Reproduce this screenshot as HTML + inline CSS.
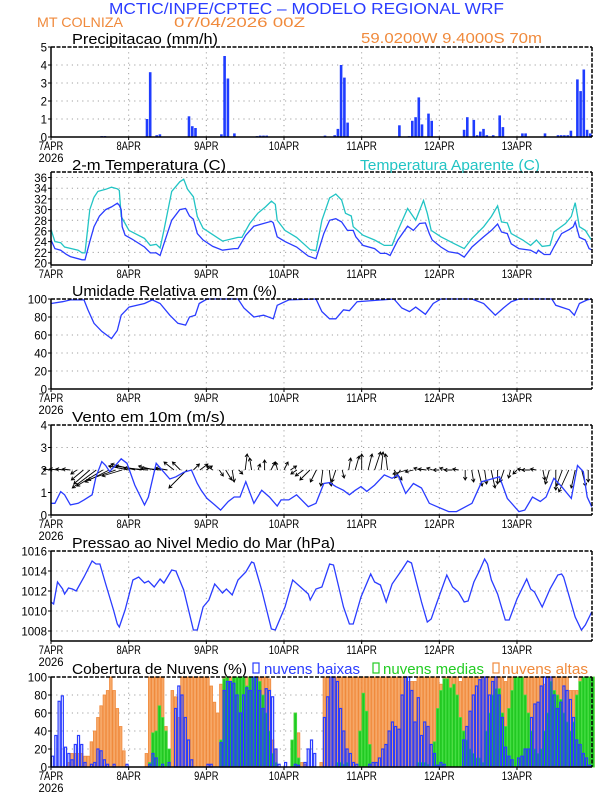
<!DOCTYPE html>
<html><head><meta charset="utf-8"><style>
html,body{margin:0;padding:0;background:#fff;}
svg{display:block;font-family:"Liberation Sans",sans-serif;}
</style></head><body>
<svg id="chart" width="612" height="792" viewBox="0 0 612 792" xmlns="http://www.w3.org/2000/svg">
<rect x="0" y="0" width="612" height="792" fill="#fff"/>
<text x="109" y="14" font-size="16" fill="#2a3cff" textLength="395" lengthAdjust="spacingAndGlyphs">MCTIC/INPE/CPTEC – MODELO REGIONAL WRF</text>
<text x="37" y="27" font-size="14" fill="#f08a3c" textLength="86" lengthAdjust="spacingAndGlyphs">MT COLNIZA</text>
<text x="174" y="27" font-size="14" fill="#f08a3c" textLength="131" lengthAdjust="spacingAndGlyphs">07/04/2026 00Z</text>
<text x="72" y="44" font-size="14.5" fill="#000" textLength="146" lengthAdjust="spacingAndGlyphs">Precipitacao (mm/h)</text>
<text x="361" y="43" font-size="14.5" fill="#f08a3c" textLength="181" lengthAdjust="spacingAndGlyphs">59.0200W 9.4000S 70m</text>
<text x="72" y="170" font-size="14.5" fill="#000" textLength="154" lengthAdjust="spacingAndGlyphs">2-m Temperatura (C)</text>
<text x="360" y="170" font-size="14.5" fill="#22c4c4" textLength="180" lengthAdjust="spacingAndGlyphs">Temperatura Aparente (C)</text>
<text x="72" y="296" font-size="14.5" fill="#000" textLength="205" lengthAdjust="spacingAndGlyphs">Umidade Relativa em 2m (%)</text>
<text x="72" y="422" font-size="14.5" fill="#000" textLength="153" lengthAdjust="spacingAndGlyphs">Vento em 10m (m/s)</text>
<text x="72" y="548" font-size="14.5" fill="#000" textLength="263" lengthAdjust="spacingAndGlyphs">Pressao ao Nivel Medio do Mar (hPa)</text>
<text x="72" y="674" font-size="14.5" fill="#000" textLength="175" lengthAdjust="spacingAndGlyphs">Cobertura de Nuvens (%)</text>
<rect x="253" y="663" width="6" height="10" fill="none" stroke="#2a3cff" stroke-width="1.2"/>
<text x="264" y="674" font-size="14.5" fill="#2a3cff" textLength="96" lengthAdjust="spacingAndGlyphs">nuvens baixas</text>
<rect x="373" y="663" width="6" height="10" fill="none" stroke="#22cc22" stroke-width="1.2"/>
<text x="383" y="674" font-size="14.5" fill="#22cc22" textLength="101" lengthAdjust="spacingAndGlyphs">nuvens medias</text>
<rect x="493" y="663" width="6" height="10" fill="none" stroke="#f08a3c" stroke-width="1.2"/>
<text x="502" y="674" font-size="14.5" fill="#f08a3c" textLength="86" lengthAdjust="spacingAndGlyphs">nuvens altas</text>
</svg>
<script>
// ---------- data ----------
const dayLabels = ["7APR","8APR","9APR","10APR","11APR","12APR","13APR"];
const precipHours = [16,17,30,31,33,34,43,44,45,53,54,55,57,64,65,66,67,85,88,89,90,91,92,108,111,112,113,114,115,117,118,128,129,131,132,133,134,135,137,139,140,146,147,153,157,158,159,160,161,163,164,165,166,167];
const precipVals = [0.05,0.05,1.0,3.6,0.1,0.15,1.15,0.6,0.5,0.15,4.5,3.25,0.2,0.05,0.08,0.08,0.08,0.08,0.1,0.45,4.0,3.3,0.8,0.65,0.05,0.9,1.1,2.2,0.7,1.3,0.9,0.4,1.1,0.95,0.1,0.3,0.45,0.1,0.1,1.2,0.55,0.2,0.2,0.2,0.1,0.1,0.1,0.1,0.35,3.2,2.55,3.75,0.4,0.2];
const precipTicks = [0,1,2,3,4,5];

const tempHours = [0,1.2,3,4.8,6,9.6,10.5,12,13.3,15,16.9,18.7,20.5,21.1,21.7,22,22.9,25,28.9,30.7,32.5,33.7,34.9,37.3,39.8,41.6,42.8,44,45.2,47,50,53,56.6,57.8,60.2,62.7,65.1,68.1,68.7,69.9,72.3,75.9,79.5,81.9,84.3,86.1,88,89.8,91.6,93.4,94.2,96.4,100,101.8,103.6,104.8,107.2,110.2,112,113.9,115.7,116.9,117.8,120.5,122.9,125.9,127.7,130.1,133.7,136.1,138,139.2,141,142.2,144.6,148.2,150,150.6,152.4,154.2,155.4,157.8,160.2,161.4,162,163.3,165.1,166.3,167];
const tempVals = [24.3,22.7,22.4,21.6,21.2,20.6,20.6,24,26.8,28.8,30,30.5,31.2,30.8,30,26.8,25.2,24.5,23,21.9,21.9,21.4,23.6,28,30,30.2,28.8,28.2,25.5,24.3,23.1,22.4,22.7,22.7,25.2,26.9,27.3,27.8,27.5,24.9,24,23,21.3,20.8,25.5,28,28.3,27.7,26.1,26.1,24.9,23.3,22.7,21.8,21.8,21.4,24.3,26.9,26.1,27.4,27.5,25.5,24.3,23,22.1,21.8,21.1,23,24.9,26.1,27.3,25.8,25.5,23.6,22.7,22.4,21.8,22.4,21.6,21.6,23,25.5,26.3,26.8,27.7,24.8,24.3,22.7,22.5];
const appHours = [0,1.2,3,4.2,8.4,9.6,10.5,12,13.3,14.5,16.9,18.7,20.5,21.1,21.7,24.1,28.9,30.7,32.5,33.7,34.9,37.3,39.8,41,42.2,44,45.2,47,53,57.8,59,61.4,63.9,66.3,68.1,69.3,69.9,72.3,75.9,80.1,81.9,83.7,86.1,88,89.8,91,92.8,93.4,96.4,100,103,105.4,107.2,110.2,112.7,115.1,116.3,117.5,120.5,124.7,127.7,130.1,133.7,136.1,138,139.2,141,142.2,145.8,148.2,150,151.8,154.2,155.4,159,160.8,162,163.3,165.1,166.9];
const appVals = [26.3,24,23.8,23,22.4,21.9,21.9,30,32.3,33.4,33.8,34.2,33.9,33.6,28.7,26.1,24.6,23.3,23.5,22.8,26.1,33.4,35.2,35.7,33.8,32.4,28.7,26.5,24.1,24.8,24.8,27.4,29.3,30.5,31.6,31,28,26.1,24.8,22.5,22.3,28,32.2,32.9,31.8,29.3,28.8,26.8,25.2,24.3,23.3,23.3,26.1,30.2,28,31.7,29.3,26.1,24.9,23.6,22.7,24.6,26.8,28.7,30.7,27.7,27.5,25.5,24.3,23.3,24.3,23.1,23.3,25.8,27.4,28.7,31.3,26.8,26.1,24.4];
const tempTicks = [20,22,24,26,28,30,32,34,36];

const rhHours = [0,3.6,6,10.2,11.4,13.3,15.7,18.7,20.5,21.7,24.1,28.9,31.3,33.7,36.7,39.2,41.6,42.8,44.6,45.8,48.2,57.8,59.6,62.7,65.7,68.7,69.9,73.5,81.9,83.7,86.1,88,90.4,92.2,94.6,106,108.4,110.8,112.7,115.7,118.1,120.5,130.1,133.7,137.3,139.8,142.2,144.6,154.8,156,160.2,161.7,163.3,165.7,167];
const rhVals = [95,97,99,99,88,73,64,56,65,82,91,95,99,95,82,73,71,80,82,95,100,100,90,80,82,78,93,99,100,86,78,78,88,87,97,100,90,86,91,83,95,100,100,95,82,90,97,100,100,93,88,82,95,99,100];
const rhTicks = [0,20,40,60,80,100];

const windHours = [0,1.2,3,4.2,6,8.4,10.2,12.7,13.9,15.7,16.9,18.1,19.9,21.7,23.5,25.9,28.9,30.1,32.5,33.7,36.7,38.6,41,43.4,45.2,46.4,48.2,50.6,52.4,54.8,56.6,58.4,60.2,62.7,65.1,67.5,69.9,71.1,73.5,75.9,79.5,81.9,84.3,86.1,88,90.4,92.2,94,95.8,97.6,100,103,105.4,107.2,109.6,112,114.5,116.9,119.3,122.9,125.3,130.1,133.1,134.9,138.6,141,144.6,146.4,148.8,151.2,153,155.4,157.8,160.8,162.7,164.5,165.7,167.1];
const windSpeed = [0.52,0.52,1.04,0.9,0.45,0.52,0.67,0.9,1.7,2.37,2.2,1.93,2.2,2.5,2.3,1.33,0.45,0.8,2.3,2.1,1.6,1.7,1.9,2.0,1.4,1.1,0.74,0.45,0.22,0.6,0.8,0.8,1.48,0.52,1.1,0.8,0.4,0.67,0.67,0.9,0.37,0.52,1.4,1.44,1.26,1.1,0.9,1.1,1.26,1.05,1.33,1.78,1.63,1.78,0.96,1.4,1.2,0.52,0.37,0.15,0.15,0.52,1.48,1.55,1.7,0.74,0.15,0.22,0.8,0.6,0.8,1.63,1.26,0.74,2.2,1.93,0.8,0.37];
const windU = [-0.4,-0.4,-0.4,-0.4,-0.3,-0.6,-0.8,-1.2,-1.3,-1.2,-1.4,-1.0,-1.0,-1.2,-1.3,-1.2,-0.8,-1.0,-0.6,-0.5,-0.4,-0.9,0.3,0.4,0.3,-0.3,0.2,0.3,0.1,0.2,0.1,-0.1,0.1,0.0,0.2,-0.1,0.2,0.3,-0.3,-0.4,-0.5,-0.3,-0.1,0.1,-0.2,0.1,0.1,0.2,0.0,0.2,0.3,0.1,-0.1,0.4,-0.3,-0.7,-0.4,-0.3,-0.4,-0.3,-0.3,-0.3,-0.4,-0.3,0.0,0.1,0.2,0.1,0.2,0.0,-0.2,-0.1,-0.2,-0.3,-0.4,-0.3,0.1,-0.2,0.0,-0.3,-0.5,-0.2,0.2,0.0];
const windV = [0.05,0.05,0.05,0.05,-0.2,-0.5,-0.7,-0.9,-0.8,-0.6,-0.5,-0.3,0.2,0.3,0.2,0.1,0.2,0.1,0.1,0.4,0.4,-0.9,0.3,0.3,0.2,0.2,-0.3,-0.5,-0.6,-0.2,0.8,0.6,0.3,0.5,0.4,0.4,0.4,0.2,-0.2,-0.3,-0.5,-0.6,-0.8,-0.8,-0.6,-0.4,0.6,0.7,0.8,0.8,0.9,0.9,0.8,-0.5,-0.4,-0.2,-0.1,0.1,0.05,0.1,0.0,0.1,0.0,0.05,-0.5,-0.6,-0.8,-0.7,-0.9,-0.7,-0.6,-0.4,-0.2,0.05,0.0,0.05,-0.5,-0.7,-1.0,-0.8,-1.1,-0.9,-0.8,-0.6];
const windTicks = [0,1,2,3,4];

const presHours = [0,0.8,2,3.6,4.2,5.4,6.6,7.8,10.2,12.7,13.9,15.1,16.9,19.3,20.5,21.1,22.9,25.3,27.1,28.9,30.1,31.9,33.7,34.9,37.3,38.6,41,44,45.2,47,48.8,50.6,53,54.2,56,57.8,60.2,62,62.7,65.1,68.1,69.3,72.3,74.7,77.1,79.5,80.1,81.9,83.7,86.1,87.3,90.4,92.2,93.4,95.8,98.8,100,101.8,103.6,105.4,108.4,110.2,111.4,114.5,116.3,117.5,119.3,122.3,124.1,125.9,127.7,128.9,130.7,132.5,134,134.9,136.1,138,140.4,141.6,144,147,148.2,149.4,151.8,154.2,156.6,157.8,158.4,162,163.9,165.1,167.1];
const presVals = [1010.9,1010.7,1012.9,1012.2,1011.7,1012.3,1012.2,1012,1013.4,1015,1014.7,1014.7,1012.7,1010.1,1008.7,1008.4,1010.1,1013.1,1013.4,1012.8,1013,1012.4,1013.2,1012.8,1014.1,1014,1012.1,1008.1,1008.1,1010.4,1011.1,1012.7,1011.8,1012.2,1011.6,1013.1,1013.9,1014.9,1014.8,1012.1,1008.2,1008.1,1010.4,1013.1,1012.4,1011.7,1011.1,1012.2,1012.4,1014.7,1014.6,1010.4,1008.7,1008.7,1011.4,1013.7,1012.9,1012.6,1010.9,1012.7,1014.1,1015,1014.8,1010.9,1008.9,1009.2,1010.9,1013.6,1012.4,1011.9,1010.9,1011,1012.9,1014.1,1015.2,1014.7,1013.1,1011.7,1009.1,1009.1,1011.2,1013.2,1012.2,1011.9,1010.4,1012.2,1013.6,1013.7,1013.4,1009.4,1008.1,1008.6,1009.9];
const presTicks = [1008,1010,1012,1014,1016];

const cloudLow = [12,35,73,79,22,15,8,25,35,25,5,0, 3,5,20,18,8,3,0,3,0,0,0,3, 0,0,0,0,0,0,3,15,10,0,3,0, 5,0,65,90,80,55,30,8,0,0,0,0, 3,3,0,0,27,85,95,95,93,80,60,80, 88,85,100,100,85,65,87,85,78,20,3,0, 5,0,0,3,2,0,5,20,30,15,0,0, 55,78,100,100,95,65,40,20,15,5,3,0, 0,0,3,5,5,10,20,25,40,50,45,42, 80,100,100,85,50,77,35,50,45,25,15,2, 5,3,0,0,0,0,0,30,45,62,80,90, 97,100,100,80,95,100,80,55,22,12,8,0, 10,12,20,20,55,70,72,90,100,100,100,80, 65,72,90,85,75,55,30,25,15,10,2,0];
const cloudMid = [0,0,0,0,0,0,0,0,0,0,0,0, 0,0,0,0,0,0,0,0,0,0,0,0, 0,0,0,0,0,0,5,38,40,68,55,40, 20,0,0,0,0,0,0,0,0,0,0,0, 0,0,0,0,30,98,100,95,100,100,100,100, 90,100,100,100,95,80,60,40,15,5,0,0, 0,0,30,60,10,0,0,0,0,0,0,0, 0,0,0,0,5,5,3,5,0,0,0,40, 82,62,25,0,0,0,0,0,0,0,0,0, 0,0,0,0,0,5,5,5,3,0,28,65, 85,98,98,88,92,80,55,40,30,20,15,10, 10,5,40,60,80,87,87,60,45,65,85,100, 100,100,80,60,40,20,15,20,40,60,95,85, 80,75,60,50,40,50,80,95,100,100,100,100];
const cloudHigh = [0,0,0,0,0,5,15,15,15,15,12,12, 28,40,55,68,80,85,100,85,65,45,18,0, 0,0,0,0,0,15,100,100,100,100,100,45, 0,85,78,55,100,100,100,100,100,100,100,100, 100,90,72,60,92,100,100,100,100,100,100,100, 100,100,100,100,100,100,100,98,30,20,0,0, 0,0,0,60,38,5,3,0,0,0,0,5, 100,100,100,100,100,100,100,100,100,100,100,100, 100,100,100,100,100,100,100,100,100,100,100,100, 100,100,95,95,95,100,100,100,100,100,100,100, 92,100,100,100,100,100,95,100,100,100,100,100, 100,100,100,100,100,100,100,100,95,100,100,100, 100,100,100,100,100,100,100,100,92,100,100,100, 100,100,100,100,85,85,85,100,100,100,100,100];
const cloudTicks = [0,20,40,60,80,100];

// ---------- helpers ----------
const NS = "http://www.w3.org/2000/svg";
const svg = document.getElementById("chart");
const X0 = 51, PXH = 3.236, X1 = 592;
function xh(h){ return X0 + h * PXH; }
function mk(tag, attrs){
  const e = document.createElementNS(NS, tag);
  for (const k in attrs) e.setAttribute(k, attrs[k]);
  svg.appendChild(e);
  return e;
}
function scaleY(top, bottom, vmin, vmax){
  return v => bottom - (v - vmin) / (vmax - vmin) * (bottom - top);
}

function panel(key, top, bottom, ys, ticks, gridVals, showYear){
  const bg = mk("g", {});
  
  
  for (const g of gridVals){
    const l = mk("line", {x1:X0, x2:X1, y1:ys(g), y2:ys(g), stroke:"#a0a0a0", "stroke-width":1, "stroke-dasharray":"1.2,4"});
    
    
  }
  for (let d = 1; d < dayLabels.length; d++){
    const gx = xh(d * 24);
    const l = mk("line", {x1:gx, x2:gx, y1:top, y2:bottom, stroke:"#a0a0a0", "stroke-width":1, "stroke-dasharray":"1.2,4"});
    
    
  }
  for (const t of ticks){
    const tl = mk("line", {x1:X0 - 3, x2:X0, y1:ys(t), y2:ys(t), stroke:"#000", "stroke-width":1});
    
    
    const s = String(t);
    const tx = mk("text", {x:X0 - 4, y:ys(t) + 4.5, "font-size":12, "text-anchor":"end", textLength:(s.length * 6.4).toFixed(1), lengthAdjust:"spacingAndGlyphs"});
    tx.textContent = s;
    
    
  }
  for (let d = 0; d < dayLabels.length; d++){
    const gx = xh(d * 24);
    const tk = mk("line", {x1:gx, x2:gx, y1:bottom, y2:bottom + 3, stroke:"#000", "stroke-width":1});
    
    
    const s = dayLabels[d];
    const tx = mk("text", {x:gx, y:bottom + 13, "font-size":12, "text-anchor":"middle", textLength:(s.length * 6.1).toFixed(1), lengthAdjust:"spacingAndGlyphs"});
    tx.textContent = s;
    
    
  }
  if (showYear){
    const yr = mk("text", {x:xh(0), y:bottom + 25, "font-size":12, "text-anchor":"middle", textLength:25, lengthAdjust:"spacingAndGlyphs"});
    yr.textContent = "2026";
    
    
  }
}
function frame(key, top, bottom){
  const l1 = mk("line", {x1:X0, x2:X0, y1:top, y2:bottom, stroke:"#000", "stroke-width":1.5});
  
  
  const l2 = mk("line", {x1:X0, x2:X1, y1:bottom, y2:bottom, stroke:"#000", "stroke-width":1.5});
  
  
  const l3 = mk("line", {x1:X0, x2:X1, y1:top, y2:top, stroke:"#000", "stroke-width":1.5, "stroke-dasharray":"4,1.5"});
  
  
  const l4 = mk("line", {x1:X1, x2:X1, y1:top, y2:bottom, stroke:"#000", "stroke-width":1.5, "stroke-dasharray":"4,1.5"});
  
  
}
function linePath(hours, vals, ys){
  const n = Math.min(hours.length, vals.length);
  let d = "";
  for (let i = 0; i < n; i++) d += (i ? "L" : "M") + xh(hours[i]).toFixed(1) + "," + ys(vals[i]).toFixed(1);
  return d;
}

// ---------- Panel 1: precipitation ----------
const yP = scaleY(47, 137, 0, 5);
panel("precip", 47, 137, yP, precipTicks, [1,2,3,4], true);
for (let i = 0; i < precipHours.length; i++){
  const bx = xh(precipHours[i]) - 2.4;
  const b = mk("rect", {x:bx.toFixed(1), y:yP(precipVals[i]).toFixed(1), width:2.6, height:(137 - yP(precipVals[i])).toFixed(1), fill:"#1f3cff"});
  
  
}
frame("precip", 47, 137);

// ---------- Panel 2: temperature ----------
const yT = v => 263 - (v - 20) * 5.34;
panel("temp", 172, 265, yT, tempTicks, [22,24,26,28,30,32,34,36], false);
const pa = mk("path", {d:linePath(appHours, appVals, yT), fill:"none", stroke:"#22c4c4", "stroke-width":1.3});


const pt = mk("path", {d:linePath(tempHours, tempVals, yT), fill:"none", stroke:"#2a3cff", "stroke-width":1.3});


frame("temp", 172, 265);

// ---------- Panel 3: humidity ----------
const yR = scaleY(299, 389, 0, 100);
panel("humidity", 299, 389, yR, rhTicks, [20,40,60,80], true);
const pr = mk("path", {d:linePath(rhHours, rhVals, yR), fill:"none", stroke:"#2a3cff", "stroke-width":1.3});


frame("humidity", 299, 389);

// ---------- Panel 4: wind ----------
const yW = scaleY(425, 515, 0, 4);
panel("wind", 425, 515, yW, windTicks, [1,2,3], true);
const ARW = 20;
for (let i = 0; i < Math.min(windU.length, windV.length); i++){
  const x0 = xh(i * 2), y0 = yW(2);
  const x1 = x0 + windU[i] * ARW, y1 = y0 - windV[i] * ARW;
  const len = Math.hypot(x1 - x0, y1 - y0) || 1;
  const ux = (x1 - x0) / len, uy = (y1 - y0) / len;
  const hl = 3;
  const ax = x1 - ux * hl - uy * hl * 0.6, ay = y1 - uy * hl + ux * hl * 0.6;
  const bx = x1 - ux * hl + uy * hl * 0.6, by = y1 - uy * hl - ux * hl * 0.6;
  const a = mk("path", {d:`M${x0.toFixed(1)},${y0.toFixed(1)}L${x1.toFixed(1)},${y1.toFixed(1)}M${ax.toFixed(1)},${ay.toFixed(1)}L${x1.toFixed(1)},${y1.toFixed(1)}L${bx.toFixed(1)},${by.toFixed(1)}`, fill:"none", stroke:"#000", "stroke-width":0.9});
  
  
}
const pw = mk("path", {d:linePath(windHours, windSpeed, yW), fill:"none", stroke:"#2a3cff", "stroke-width":1.3});


frame("wind", 425, 515);

// ---------- Panel 5: pressure ----------
const yS = v => 551 + (1016 - v) * 10;
panel("pressure", 551, 641, yS, presTicks, [1008,1010,1012,1014], true);
const pp = mk("path", {d:linePath(presHours, presVals, yS), fill:"none", stroke:"#2a3cff", "stroke-width":1.3});


frame("pressure", 551, 641);

// ---------- Panel 6: clouds ----------
const yC = scaleY(677, 767, 0, 100);
panel("cloud", 677, 767, yC, cloudTicks, [20,40,60,80], true);
for (let h = 0; h < cloudHigh.length; h++){
  if (cloudHigh[h] <= 0) continue;
  const r = mk("rect", {x:(xh(h) + 0.3).toFixed(1), y:yC(cloudHigh[h]).toFixed(1), width:(PXH - 0.6).toFixed(2), height:(767 - yC(cloudHigh[h])).toFixed(1), fill:"#f6a868", stroke:"#f08a3c", "stroke-width":0.8});
  
  
}
for (let h = 0; h < cloudMid.length; h++){
  if (cloudMid[h] <= 0) continue;
  const r = mk("rect", {x:(xh(h) + 0.3).toFixed(1), y:yC(cloudMid[h]).toFixed(1), width:(PXH - 0.6).toFixed(2), height:(767 - yC(cloudMid[h])).toFixed(1), fill:"#22c822", stroke:"#44e044", "stroke-width":0.8});
  
  
}
for (let h = 0; h < cloudLow.length; h++){
  if (cloudLow[h] <= 0) continue;
  const r = mk("rect", {x:(xh(h) + 0.6).toFixed(1), y:yC(cloudLow[h]).toFixed(1), width:(PXH - 1.2).toFixed(2), height:(767 - yC(cloudLow[h])).toFixed(1), fill:"none", stroke:"#2a3cff", "stroke-width":1.2});
  
  
}
frame("cloud", 677, 767);
</script>
</body></html>
